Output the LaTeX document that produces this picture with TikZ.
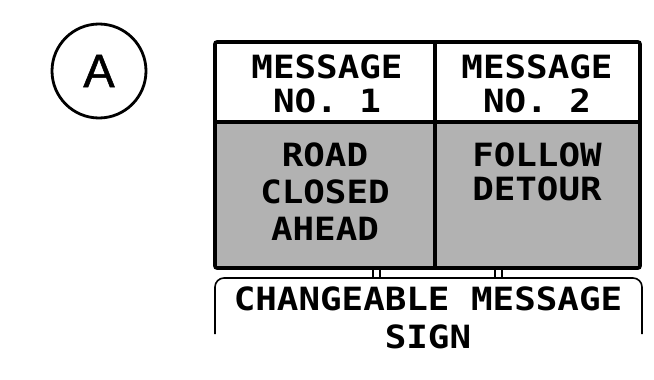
\documentclass[tikz,border=0pt]{standalone}
\usepackage{fontspec}
\newfontfamily\signfont{DejaVu Sans Mono}[FakeStretch=1.12]
\newfontfamily\labelfont{Liberation Sans}[FakeBold=1.2]
\usetikzlibrary{calc}

\tikzset{
    signtext/.style={font=\signfont\bfseries\fontsize{32}{34}\selectfont, align=center, inner sep=0pt},
    signline/.style={line width=3.6pt},
    postline/.style={line width=1.4pt}
}

\begin{document}
\begin{tikzpicture}[x=1pt, y=-1pt]
        \useasboundingbox (0, 0) rectangle (654, 380);

        % The circled letter
        \node[circle, draw, line width=2.8pt, minimum size=94pt, inner sep=0pt,
            font=\labelfont\fontsize{47}{47}\selectfont] (lettera) at (99, 71) {A};

        % The panels of the sign
        \fill[gray!60] (215, 122) rectangle (640, 268);
        \draw[signline] (435, 42) -- (435, 268);
        \draw[signline] (215, 122) -- (640, 122);
        \draw[signline, rounded corners=2pt] (215, 42) rectangle (640, 268);

        % The texts of the panels
        \node[signtext, anchor=north] (msgone) at (327, 55) {MESSAGE\\NO. 1};
        \node[signtext, anchor=north] (msgtwo) at (537, 55) {MESSAGE\\NO. 2};
        \node[signtext, font=\signfont\bfseries\fontsize{32}{37}\selectfont, anchor=north] (roadclosed) at (325, 143) {ROAD\\CLOSED\\AHEAD};
        \node[signtext, anchor=north] (followdetour) at (537, 143) {FOLLOW\\DETOUR};

        % The posts
        \draw[postline] (373, 268) rectangle (380, 278);
        \draw[postline] (495, 268) rectangle (502, 278);

        % The bracket and its label
        \draw[line width=1.6pt, rounded corners=9pt] (215, 334) -- (215, 278) -- (642, 278) -- (642, 334);
        \node[signtext, font=\signfont\bfseries\fontsize{32}{38}\selectfont, anchor=north] (cmslabel) at (428, 287) {CHANGEABLE MESSAGE\\SIGN};
    \end{tikzpicture}
\end{document}
